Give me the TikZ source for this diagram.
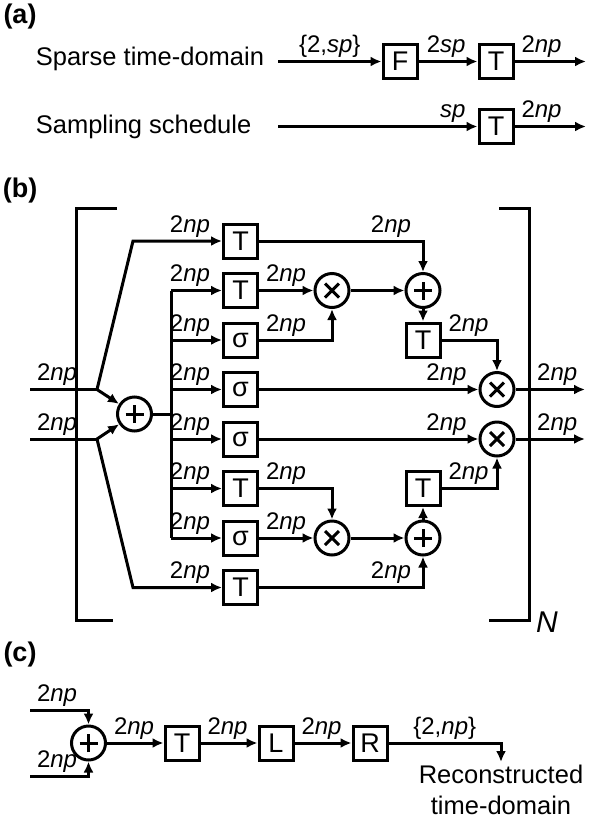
\documentclass[tikz,border=0pt]{standalone}
\usepackage{fontspec}
\setmainfont{Liberation Sans}
\usetikzlibrary{arrows.meta}

\tikzset{
  hdr/.style={font=\fontsize{27}{27}\selectfont\bfseries},
  txt/.style={font=\fontsize{25.5}{31}\selectfont},
  blk/.style={draw, minimum size=34pt, inner sep=0pt, font=\fontsize{27}{27}\selectfont},
  sumnode/.style={draw, circle, minimum size=34pt, inner sep=0pt,
    path picture={\draw ([xshift=-9pt]path picture bounding box.center) -- ([xshift=9pt]path picture bounding box.center)
      ([yshift=-9pt]path picture bounding box.center) -- ([yshift=9pt]path picture bounding box.center);}},
  mulnode/.style={draw, circle, minimum size=34pt, inner sep=0pt,
    path picture={\draw ([shift={(-7pt,-7pt)}]path picture bounding box.center) -- ([shift={(7pt,7pt)}]path picture bounding box.center)
      ([shift={(-7pt,7pt)}]path picture bounding box.center) -- ([shift={(7pt,-7pt)}]path picture bounding box.center);}},
  lbl/.style={font=\fontsize{24}{24}\selectfont, inner sep=2.5pt},
  inlbl/.style={lbl, pos=1, anchor=south east, xshift=-8pt},
  outlbl/.style={lbl, pos=0, anchor=south west, xshift=3pt},
  arr/.style={->},
}

\begin{document}
\begin{tikzpicture}[x=1pt, y=1pt, line width=3pt, >={Latex[length=11pt,width=10pt]}]
		\useasboundingbox (0,0) rectangle (590,-820);
		
		% (a)
		\node[hdr] (pa) at (20,-16.5) {(a)};
		\node[txt, anchor=base west] (sparse) at (31,-65) {Sparse time-domain};
		\node[txt, anchor=base west] (sampling) at (31,-133) {Sampling schedule};
		\coordinate (a1in) at (278,-61.5);
		\coordinate (a1out) at (586,-61.5);
		\coordinate (a2in) at (278,-126.5);
		\coordinate (a2out) at (586,-126.5);
		\node[blk] (fa) at (400,-61.5) {F};
		\node[blk] (ta1) at (496,-61.5) {T};
		\node[blk] (ta2) at (496,-126.5) {T};
		
		\draw[arr] (a1in) -- node[lbl, above] {\{2,\textit{sp}\}} (fa);
		\draw[arr] (fa) -- node[inlbl] {2\textit{sp}} (ta1);
		\draw[arr] (ta1) -- node[outlbl] {2\textit{np}} (a1out);
		\draw[arr] (a2in) -- node[inlbl] {\textit{sp}} (ta2);
		\draw[arr] (ta2) -- node[outlbl] {2\textit{np}} (a2out);
		
		% (b)
		\node[hdr] (pb) at (20,-191) {(b)};
		\draw (117,-208) -| (76,-620) -- (113,-620);
		\draw (499,-208) -| (529,-620) -- (489,-620);
		\node[font=\fontsize{30}{30}\selectfont\itshape] (nrep) at (547,-622) {N};
		
		\node[blk] (t1) at (240.5,-241) {T};
		\node[blk] (t2) at (240.5,-290.5) {T};
		\node[blk] (s3) at (240.5,-340) {σ};
		\node[blk] (s4) at (240.5,-389.5) {σ};
		\node[blk] (s5) at (240.5,-439) {σ};
		\node[blk] (t6) at (240.5,-488.5) {T};
		\node[blk] (s7) at (240.5,-538) {σ};
		\node[blk] (t8) at (240.5,-587.5) {T};
		
		\node[sumnode] (sum1) at (134.5,-414) {};
		\node[mulnode] (mul2) at (332,-290.5) {};
		\node[sumnode] (plus2) at (423,-290.5) {};
		\node[blk] (t3b) at (423,-340) {T};
		\node[mulnode] (mul4) at (497,-389.5) {};
		\node[mulnode] (mul5) at (497,-439) {};
		\node[blk] (t6b) at (423,-488.5) {T};
		\node[mulnode] (mul7) at (332,-538) {};
		\node[sumnode] (plus7) at (423,-538) {};
		
		\coordinate (in4) at (30,-389.5);
		\coordinate (in5) at (30,-439);
		\coordinate (f4) at (97,-389.5);
		\coordinate (f5) at (97,-439);
		\coordinate (c1) at (133,-241);
		\coordinate (c8) at (133,-587.5);
		\coordinate (out4) at (585,-389.5);
		\coordinate (out5) at (585,-439);
		\coordinate (bus0) at (171,-414);
		\coordinate (bus2) at (171,-290.5);
		\coordinate (bus3) at (171,-340);
		\coordinate (bus4) at (171,-389.5);
		\coordinate (bus5) at (171,-439);
		\coordinate (bus6) at (171,-488.5);
		\coordinate (bus7) at (171,-538);
		
		\draw (in4) -- node[outlbl] {2\textit{np}} (f4);
		\draw (in5) -- node[outlbl] {2\textit{np}} (f5);
		\draw[arr] (f4) -- (sum1);
		\draw[arr] (f5) -- (sum1);
		\draw[arr] (f4) -- (c1) -- node[inlbl] {2\textit{np}} (t1);
		\draw[arr] (f5) -- (c8) -- node[inlbl] {2\textit{np}} (t8);
		
		\draw (sum1) -- (bus0);
		\draw (bus2) -- (bus7);
		\draw[arr] (bus2) -- node[inlbl] {2\textit{np}} (t2);
		\draw[arr] (bus3) -- node[inlbl] {2\textit{np}} (s3);
		\draw[arr] (bus4) -- node[inlbl] {2\textit{np}} (s4);
		\draw[arr] (bus5) -- node[inlbl] {2\textit{np}} (s5);
		\draw[arr] (bus6) -- node[inlbl] {2\textit{np}} (t6);
		\draw[arr] (bus7) -- node[inlbl] {2\textit{np}} (s7);
		
		\draw[arr] (t1) -| node[inlbl, pos=0.5] {2\textit{np}} (plus2);
		\draw[arr] (t2) -- node[outlbl] {2\textit{np}} (mul2);
		\draw[arr] (s3) -| node[outlbl] {2\textit{np}} (mul2);
		\draw[arr] (mul2) -- (plus2);
		\draw[arr] (plus2) -- (t3b);
		\draw[arr] (t3b) -| node[outlbl] {2\textit{np}} (mul4);
		\draw[arr] (s4) -- node[inlbl] {2\textit{np}} (mul4);
		\draw[arr] (s5) -- node[inlbl] {2\textit{np}} (mul5);
		\draw[arr] (mul4) -- node[lbl, above, pos=0.6] {2\textit{np}} (out4);
		\draw[arr] (mul5) -- node[lbl, above, pos=0.6] {2\textit{np}} (out5);
		
		\draw[arr] (t6) -| node[outlbl] {2\textit{np}} (mul7);
		\draw[arr] (s7) -- node[outlbl] {2\textit{np}} (mul7);
		\draw[arr] (mul7) -- (plus7);
		\draw[arr] (plus7) -- (t6b);
		\draw[arr] (t6b) -| node[outlbl] {2\textit{np}} (mul5);
		\draw[arr] (t8) -| node[inlbl, pos=0.5] {2\textit{np}} (plus7);
		
		% (c)
		\node[hdr] (pc) at (20,-654.5) {(c)};
		\node[sumnode] (sumc) at (88.5,-743) {};
		\node[blk] (tc) at (182,-743) {T};
		\node[blk] (lc) at (276,-743) {L};
		\node[blk] (rc) at (370,-743) {R};
		\node[txt, align=center, anchor=north, inner sep=1.5pt] (recon) at (501,-762) {Reconstructed\\time-domain};
		\coordinate (cin1) at (30,-710);
		\coordinate (cin2) at (30,-776);
		
		\draw[arr] (cin1) -| node[outlbl] {2\textit{np}} (sumc);
		\draw[arr] (cin2) -| node[outlbl] {2\textit{np}} (sumc);
		\draw[arr] (sumc) -- node[outlbl] {2\textit{np}} (tc);
		\draw[arr] (tc) -- node[outlbl] {2\textit{np}} (lc);
		\draw[arr] (lc) -- node[outlbl] {2\textit{np}} (rc);
		\draw[arr] (rc) -| node[lbl, above, pos=0.25] {\{2,\textit{np}\}} (recon.north);
		
		\end{tikzpicture}
\end{document}
